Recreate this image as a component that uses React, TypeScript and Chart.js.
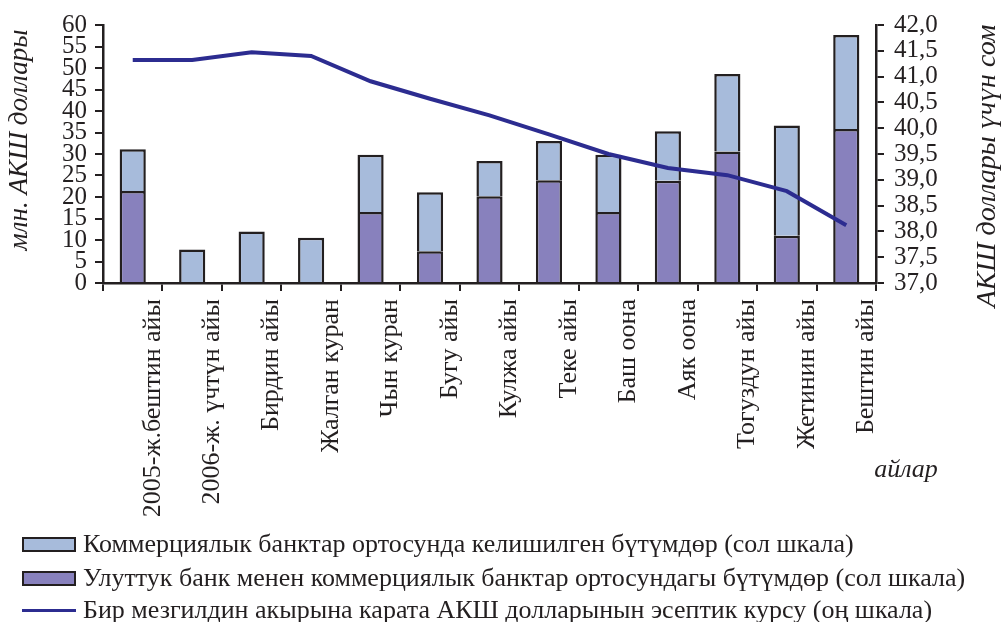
import React, { useEffect, useRef } from 'react';
import { Chart, registerables } from 'chart.js';

Chart.register(...registerables);

const categories = [
  '2005-ж.бештин айы',
  '2006-ж. үчтүн айы',
  'Бирдин айы',
  'Жалган куран',
  'Чын куран',
  'Бугу айы',
  'Кулжа айы',
  'Теке айы',
  'Баш оона',
  'Аяк оона',
  'Тогуздун айы',
  'Жетинин айы',
  'Бештин айы',
];

const nationalBankDeals: (number | null)[] = [21.4, null, null, null, 16.5, 7.4, 20.2, 23.9, 16.5, 23.8, 30.6, 11.0, 35.8];
const interbankDeals = [9.7, 7.8, 12.0, 10.5, 13.3, 13.7, 8.2, 9.1, 13.3, 11.5, 18.0, 25.6, 21.9];
const exchangeRate = [41.32, 41.32, 41.47, 41.4, 40.91, 40.57, 40.25, 39.88, 39.5, 39.23, 39.09, 38.78, 38.12];

const legendLabels = [
  'Коммерциялык банктар ортосунда келишилген бүтүмдөр (сол шкала)',
  'Улуттук банк менен коммерциялык банктар ортосундагы бүтүмдөр (сол шкала)',
  'Бир мезгилдин акырына карата АКШ долларынын эсептик курсу (оң шкала)',
];
const leftTitle = 'млн. АКШ доллары';
const rightTitle = 'АКШ доллары үчүн сом';
const xTitle = 'айлар';

const FONT = '"Liberation Serif", "Times New Roman", serif';
const LIGHT = '#a7bbdb';
const PURPLE = '#8881bd';
const LINE = '#2c2c90';
const DARK = '#231f20';

const titlesPlugin = {
  id: 'customTitles',
  afterDraw(chart: any) {
    const ctx = chart.ctx;
    ctx.save();
    ctx.fillStyle = DARK;
    ctx.font = `italic 27px ${FONT}`;
    ctx.textAlign = 'center';
    ctx.textBaseline = 'middle';
    ctx.save();
    ctx.translate(20, 140);
    ctx.rotate(-Math.PI / 2);
    ctx.fillText(leftTitle, 0, 0);
    ctx.restore();
    ctx.save();
    ctx.translate(988, 166);
    ctx.rotate(-Math.PI / 2);
    ctx.font = `italic 28px ${FONT}`;
    ctx.fillText(rightTitle, 0, 0);
    ctx.restore();
    ctx.font = `italic 26px ${FONT}`;
    ctx.fillText(xTitle, 906, 470);
    ctx.restore();
  },
};

export default function App() {
  const canvasRef = useRef<HTMLCanvasElement | null>(null);

  useEffect(() => {
    if (!canvasRef.current) return;
    const chart = new Chart(canvasRef.current, {
      type: 'bar',
      data: {
        labels: categories,
        datasets: [
          {
            type: 'line',
            label: legendLabels[2],
            data: exchangeRate,
            yAxisID: 'y2',
            borderColor: LINE,
            backgroundColor: LINE,
            borderWidth: 4,
            pointRadius: 0,
            tension: 0,
            order: 0,
          } as any,
          {
            label: legendLabels[1],
            data: nationalBankDeals,
            backgroundColor: PURPLE,
            borderColor: DARK,
            borderWidth: 2.5,
            borderSkipped: 'start',
            stack: 's',
            yAxisID: 'y',
            order: 1,
          },
          {
            label: legendLabels[0],
            data: interbankDeals,
            backgroundColor: LIGHT,
            borderColor: DARK,
            borderWidth: 2.5,
            borderSkipped: 'start',
            stack: 's',
            yAxisID: 'y',
            order: 1,
          },
        ],
      },
      options: {
        animation: false,
        responsive: true,
        maintainAspectRatio: false,
        layout: { padding: { left: 0, right: 0, top: 22, bottom: 0 } },
        datasets: { bar: { barPercentage: 0.44, categoryPercentage: 1 } },
        plugins: { legend: { display: false }, tooltip: { enabled: false } },
        scales: {
          x: {
            stacked: true,
            afterFit: (s: any) => { s.height = 339; },
            grid: { display: true, drawOnChartArea: false, drawTicks: true, tickLength: 8, color: DARK, lineWidth: 2, offset: true },
            border: { display: true, color: DARK, width: 2.5 },
            ticks: {
              color: DARK,
              font: { family: FONT, size: 26 },
              minRotation: 90,
              maxRotation: 90,
              autoSkip: false,
              padding: 8,
              labelOffset: 20,
            },
          },
          y: {
            position: 'left',
            stacked: true,
            min: 0,
            max: 60,
            afterFit: (s: any) => { s.width = 103; },
            grid: { display: true, drawOnChartArea: false, drawTicks: true, tickLength: 8, color: DARK, lineWidth: 2 },
            border: { display: true, color: DARK, width: 2.5 },
            ticks: { stepSize: 5, autoSkip: false, color: DARK, font: { family: FONT, size: 25 }, padding: 8 },
          },
          y2: {
            position: 'right',
            min: 37,
            max: 42,
            afterFit: (s: any) => { s.width = 128; },
            grid: { display: true, drawOnChartArea: false, drawTicks: true, tickLength: 8, color: DARK, lineWidth: 2 },
            border: { display: true, color: DARK, width: 2.5 },
            ticks: {
              stepSize: 0.5,
              autoSkip: false,
              color: DARK,
              font: { family: FONT, size: 25 },
              padding: 10,
              callback: (v: any) => Number(v).toFixed(1).replace('.', ','),
            },
          },
        },
      },
      plugins: [titlesPlugin],
    });
    return () => chart.destroy();
  }, []);

  const legendRow = (top: number, swatch: React.ReactNode, text: string) => (
    <div style={{ position: 'absolute', left: 22, top, height: 30, display: 'flex', alignItems: 'center', whiteSpace: 'nowrap' }}>
      {swatch}
      <span style={{ marginLeft: 7, fontFamily: FONT, fontSize: 26, color: DARK, lineHeight: '30px' }}>{text}</span>
    </div>
  );

  return (
    <div style={{ position: 'absolute', left: 0, top: 0, width: 1004, height: 622, background: '#fff', overflow: 'hidden' }}>
      <canvas ref={canvasRef} style={{ position: 'absolute', left: 0, top: 0 }} />
      {legendRow(529, <div style={{ width: 50, height: 11, background: LIGHT, border: `2px solid ${DARK}` }} />, legendLabels[0])}
      {legendRow(563, <div style={{ width: 50, height: 11, background: PURPLE, border: `2px solid ${DARK}` }} />, legendLabels[1])}
      {legendRow(595, <div style={{ width: 54, height: 3, background: LINE }} />, legendLabels[2])}
    </div>
  );
}
